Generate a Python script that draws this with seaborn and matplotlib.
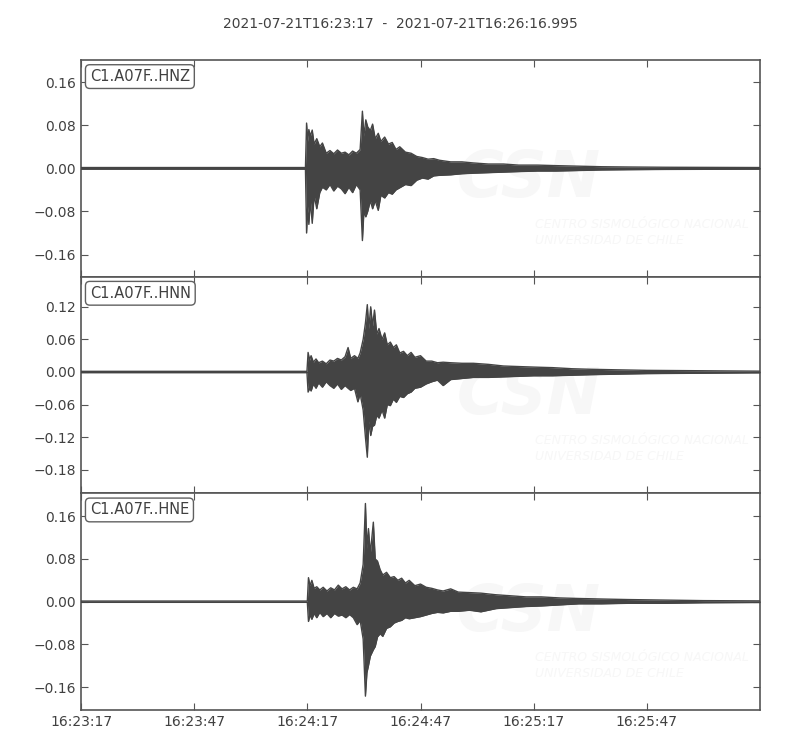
import numpy as np
import pandas as pd
import seaborn as sns
import matplotlib
matplotlib.use("Agg")
import matplotlib.pyplot as plt
from matplotlib.ticker import FuncFormatter

# waveform envelopes (seconds after 16:23:17, m/s^2-ish units)
hnz_t = [0, 59.5, 59.8, 60.1, 60.4, 60.8, 61.3, 61.8, 62.5, 63.3, 64.0, 65.0, 66.0, 67.0,
         68.0, 69.0, 70.0, 71.0, 72.0, 73.0, 74.0, 74.6, 75.0, 75.5, 76.0, 76.7, 77.3,
         78.0, 78.8, 79.5, 80.5, 81.5, 82.5, 83.5, 84.5, 86.0, 87.5, 89.0, 90.5, 92.0,
         93.5, 95.0, 98.0, 101.0, 104.0, 108.0, 112.0, 116.0, 121.0, 126.0, 132.0,
         138.0, 145.0, 155.0, 180.0]
hnz_top = [0.0015, 0.0015, 0.084, 0.05, 0.072, 0.06, 0.071, 0.045, 0.055, 0.04, 0.047,
           0.028, 0.033, 0.027, 0.034, 0.028, 0.030, 0.025, 0.032, 0.028, 0.035, 0.106,
           0.06, 0.09, 0.077, 0.07, 0.082, 0.055, 0.065, 0.05, 0.058, 0.045, 0.048, 0.035,
           0.04, 0.03, 0.028, 0.022, 0.02, 0.017, 0.018, 0.015, 0.012, 0.012, 0.01, 0.008,
           0.008, 0.006, 0.006, 0.005, 0.004, 0.003, 0.0025, 0.002, 0.0015]
hnz_bot = [-0.0015, -0.0015, -0.120, -0.07, -0.104, -0.06, -0.102, -0.05, -0.075, -0.045,
           -0.035, -0.04, -0.03, -0.042, -0.033, -0.038, -0.047, -0.035, -0.045, -0.03,
           -0.04, -0.134, -0.08, -0.09, -0.08, -0.06, -0.075, -0.06, -0.078, -0.05, -0.055,
           -0.045, -0.048, -0.04, -0.036, -0.03, -0.032, -0.022, -0.018, -0.02, -0.014,
           -0.013, -0.012, -0.01, -0.009, -0.008, -0.007, -0.006, -0.005, -0.005, -0.004,
           -0.003, -0.0025, -0.002, -0.0015]

hnn_t = [0, 59.9, 60.2, 60.6, 61.0, 61.6, 62.3, 63.0, 64.0, 65.0, 66.0, 67.0, 68.0, 69.0,
         70.0, 70.8, 71.5, 72.5, 73.4, 74.0, 74.8, 75.4, 75.9, 76.3, 76.8, 77.3, 77.8,
         78.4, 79.0, 79.8, 80.5, 81.2, 82.0, 82.8, 83.6, 84.5, 85.5, 86.5, 87.5, 88.5,
         90.0, 91.5, 93.0, 94.5, 96.0, 98.0, 101.0, 104.0, 108.0, 112.0, 116.0, 120.0,
         125.0, 130.0, 135.0, 142.0, 150.0, 160.0, 180.0]
hnn_top = [0.0012, 0.0012, 0.036, 0.022, 0.03, 0.018, 0.024, 0.017, 0.02, 0.015, 0.022,
           0.02, 0.025, 0.022, 0.028, 0.045, 0.025, 0.03, 0.025, 0.035, 0.06, 0.09, 0.124,
           0.08, 0.12, 0.085, 0.114, 0.07, 0.08, 0.06, 0.072, 0.05, 0.055, 0.045, 0.05,
           0.035, 0.038, 0.03, 0.036, 0.027, 0.03, 0.02, 0.02, 0.017, 0.018, 0.017, 0.016,
           0.016, 0.014, 0.011, 0.01, 0.009, 0.008, 0.006, 0.005, 0.004, 0.003, 0.0025,
           0.0015]
hnn_bot = [-0.0012, -0.0012, -0.037, -0.03, -0.035, -0.022, -0.03, -0.02, -0.028, -0.018,
           -0.025, -0.03, -0.022, -0.032, -0.025, -0.03, -0.034, -0.03, -0.055, -0.04,
           -0.07, -0.12, -0.157, -0.09, -0.117, -0.1, -0.098, -0.08, -0.085, -0.07, -0.085,
           -0.06, -0.062, -0.05, -0.056, -0.045, -0.047, -0.04, -0.037, -0.03, -0.028,
           -0.022, -0.018, -0.015, -0.025, -0.014, -0.012, -0.01, -0.01, -0.009, -0.008,
           -0.007, -0.007, -0.006, -0.005, -0.004, -0.003, -0.0025, -0.0015]

hne_t = [0, 60.0, 60.3, 60.7, 61.2, 61.8, 62.5, 63.3, 64.2, 65.2, 66.2, 67.2, 68.2, 69.2,
         70.2, 71.2, 72.2, 73.2, 74.0, 74.8, 75.4, 75.8, 76.2, 76.7, 77.5, 78.0, 78.6,
         79.3, 80.0, 81.0, 82.0, 83.0, 84.0, 85.0, 86.0, 87.0, 88.5, 90.0, 91.5, 93.0,
         94.5, 96.0, 98.0, 100.0, 103.0, 106.0, 110.0, 114.0, 118.0, 122.0, 127.0, 132.0,
         138.0, 145.0, 155.0, 165.0, 180.0]
hne_top = [0.0012, 0.0012, 0.045, 0.03, 0.04, 0.025, 0.028, 0.022, 0.027, 0.02, 0.026,
           0.022, 0.031, 0.024, 0.028, 0.022, 0.027, 0.024, 0.035, 0.07, 0.184, 0.1, 0.137,
           0.09, 0.149, 0.08, 0.076, 0.06, 0.05, 0.055, 0.045, 0.047, 0.04, 0.044, 0.035,
           0.04, 0.03, 0.033, 0.027, 0.025, 0.022, 0.02, 0.024, 0.018, 0.017, 0.016, 0.013,
           0.011, 0.009, 0.009, 0.007, 0.006, 0.005, 0.004, 0.003, 0.002, 0.0015]
hne_bot = [-0.0012, -0.0012, -0.037, -0.025, -0.033, -0.022, -0.03, -0.02, -0.028, -0.022,
           -0.03, -0.022, -0.027, -0.025, -0.03, -0.024, -0.03, -0.043, -0.035, -0.07,
           -0.177, -0.133, -0.12, -0.102, -0.09, -0.084, -0.066, -0.06, -0.065, -0.05,
           -0.047, -0.04, -0.037, -0.035, -0.03, -0.032, -0.03, -0.028, -0.025, -0.022,
           -0.02, -0.021, -0.018, -0.018, -0.016, -0.019, -0.013, -0.011, -0.009, -0.008,
           -0.006, -0.004, -0.004, -0.003, -0.003, -0.002, -0.0015]

channels = ["C1.A07F..HNZ", "C1.A07F..HNN", "C1.A07F..HNE"]
y_ticks = [[-0.16, -0.08, 0.0, 0.08, 0.16],
           [-0.18, -0.12, -0.06, 0.0, 0.06, 0.12],
           [-0.16, -0.08, 0.0, 0.08, 0.16]]
y_lims = [(-0.201, 0.201), (-0.2235, 0.1755), (-0.203, 0.203)]
x_ticks = [0, 30, 60, 90, 120, 150]
x_labels = ["16:23:17", "16:23:47", "16:24:17", "16:24:47", "16:25:17", "16:25:47"]
title = "2021-07-21T16:23:17  -  2021-07-21T16:26:16.995"

traces = [(hnz_t, hnz_top, hnz_bot), (hnn_t, hnn_top, hnn_bot), (hne_t, hne_top, hne_bot)]

sns.set_style("ticks")
plt.rcParams["font.family"] = ["DejaVu Sans"]
txt = "#404040"
wave = "#444444"

fig, axes = plt.subplots(3, 1, figsize=(8, 7.5), dpi=100, sharex=True)
fig.subplots_adjust(left=0.10125, right=0.95, top=0.92, bottom=0.0533, hspace=0)


def fmt(v, pos):
    s = f"{v:.2f}"
    if s == "-0.00":
        s = "0.00"
    return s.replace("-", "\u2212")


for ax, name, (t, top, bot), yt, yl in zip(axes, channels, traces, y_ticks, y_lims):
    df = pd.DataFrame({"t": t, "top": top, "bot": bot})
    ax.fill_between(df["t"], df["bot"], df["top"], color=wave, linewidth=0, zorder=3)
    sns.lineplot(data=df, x="t", y="top", ax=ax, color=wave, linewidth=1.0, zorder=4)
    sns.lineplot(data=df, x="t", y="bot", ax=ax, color=wave, linewidth=1.0, zorder=4)

    # faint CSN watermark
    ax.text(0.66, 0.45, "CSN", transform=ax.transAxes, fontsize=46, fontweight="bold",
            style="italic", color="#f7f7f7", ha="center", va="center", zorder=1)
    ax.text(0.668, 0.205, "CENTRO SISMOLÓGICO NACIONAL\nUNIVERSIDAD DE CHILE",
            transform=ax.transAxes, fontsize=9, style="italic", color="#f7f7f7",
            ha="left", va="center", zorder=1, linespacing=1.3)

    ax.text(0.013, 0.958, name, transform=ax.transAxes, fontsize=10.5, color=txt,
            ha="left", va="top", zorder=6,
            bbox=dict(boxstyle="round,pad=0.3", fc="white", ec="#606060", lw=1))

    ax.set_xlim(0, 180)
    ax.set_ylim(*yl)
    ax.set_yticks(yt)
    ax.yaxis.set_major_formatter(FuncFormatter(fmt))
    ax.set_xlabel("")
    ax.set_ylabel("")
    ax.tick_params(direction="in", top=True, right=True, length=5, width=0.8,
                   colors="#555555", labelcolor=txt, labelsize=10)
    for sp in ax.spines.values():
        sp.set_visible(True)
        sp.set_color("#555555")
        sp.set_linewidth(1.2)

axes[-1].set_xticks(x_ticks)
axes[-1].set_xticklabels(x_labels)

fig.suptitle(title, y=0.978, fontsize=10, color=txt)
fig.savefig("out.png", dpi=100)
